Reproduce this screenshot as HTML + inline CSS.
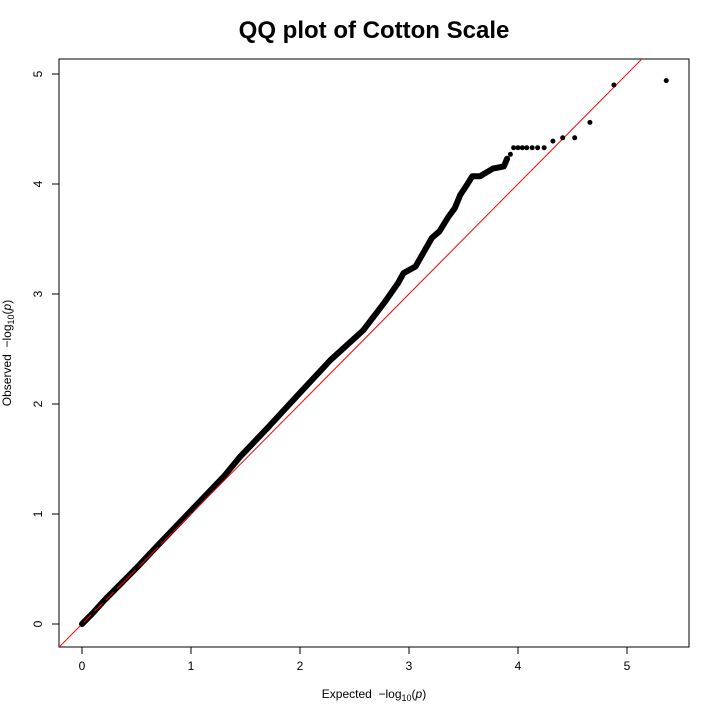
<!DOCTYPE html>
<html><head><meta charset="utf-8"><style>
body{margin:0;background:#fff;}
svg{display:block;font-family:"Liberation Sans",Arial,sans-serif;}
</style></head><body>
<svg id="chart" width="720" height="720">
<text x="374" y="38" text-anchor="middle" font-size="24" font-weight="bold">QQ plot of Cotton Scale</text>
<rect x="59" y="59" width="630" height="588" fill="none" stroke="#000" stroke-width="1"/>
<g id="xaxis"></g>
<g id="yaxis"></g>
<text x="374" y="698" text-anchor="middle" font-size="12">Expected &#160;&#8722;log<tspan font-size="9" dy="3">10</tspan><tspan dy="-3">(</tspan><tspan font-style="italic">p</tspan>)</text>
<text transform="translate(11,353) rotate(-90)" text-anchor="middle" font-size="12">Observed &#160;&#8722;log<tspan font-size="9" dy="3">10</tspan><tspan dy="-3">(</tspan><tspan font-style="italic">p</tspan>)</text>
<defs><clipPath id="clip"><rect x="59" y="59" width="630" height="588"/></clipPath></defs>
<g id="marks" clip-path="url(#clip)"></g>
</svg>
<script>
const xTicks=[0,1,2,3,4,5];
const yTicks=[0,1,2,3,4,5];
const expected=[0,0.1,0.2,0.3,0.5,0.7,1.0,1.3,1.45,1.7,1.97,2.28,2.58,2.78,2.90,2.95,3.06,3.10,3.21,3.28,3.36,3.42,3.47,3.53,3.58,3.65,3.77,3.87,3.90,3.93,3.96,4.00,4.04,4.08,4.13,4.18,4.24,4.32,4.41,4.52,4.66,4.88,5.36];
const observed=[0,0.1,0.21,0.31,0.51,0.72,1.03,1.34,1.52,1.78,2.07,2.40,2.67,2.93,3.10,3.19,3.25,3.32,3.51,3.57,3.70,3.78,3.90,3.99,4.07,4.07,4.14,4.16,4.23,4.27,4.33,4.33,4.33,4.33,4.33,4.33,4.33,4.39,4.42,4.42,4.56,4.90,4.94];
const NS="http://www.w3.org/2000/svg";
const X=v=>82+v*109, Y=v=>624-v*110;
function mk(t,a,p){const e=document.createElementNS(NS,t);for(const k in a)e.setAttribute(k,a[k]);p.appendChild(e);return e;}
const xa=document.getElementById('xaxis'),ya=document.getElementById('yaxis'),m=document.getElementById('marks');
xTicks.forEach(v=>{
 const l=mk('line',{x1:X(v),x2:X(v),y1:647,y2:654,stroke:'#000'},xa);
 
 
 const t=mk('text',{x:X(v),y:670,'text-anchor':'middle','font-size':12},xa);t.textContent=v;
 
 
});
yTicks.forEach(v=>{
 const l=mk('line',{x1:52,x2:59,y1:Y(v),y2:Y(v),stroke:'#000'},ya);
 
 
 const t=mk('text',{transform:`translate(42,${Y(v)}) rotate(-90)`,'text-anchor':'middle','font-size':12},ya);t.textContent=v;
 
 
});
let pts=[];for(let i=0;i<expected.length;i++){if(expected[i]<=3.9)pts.push(X(expected[i])+','+Y(observed[i]));}
const body=mk('polyline',{points:pts.join(' '),fill:'none',stroke:'#000','stroke-width':6,'stroke-linejoin':'round','stroke-linecap':'round'},m);


const ref=mk('line',{x1:X(-0.3),y1:Y(-0.3),x2:X(6),y2:Y(6),stroke:'#ff0000','stroke-width':1},m);


for(let i=0;i<expected.length;i++){
 const c=mk('circle',{cx:X(expected[i]),cy:Y(observed[i]),r:2.5,fill:'#000'},m);
 
 
}
</script>
</body></html>
